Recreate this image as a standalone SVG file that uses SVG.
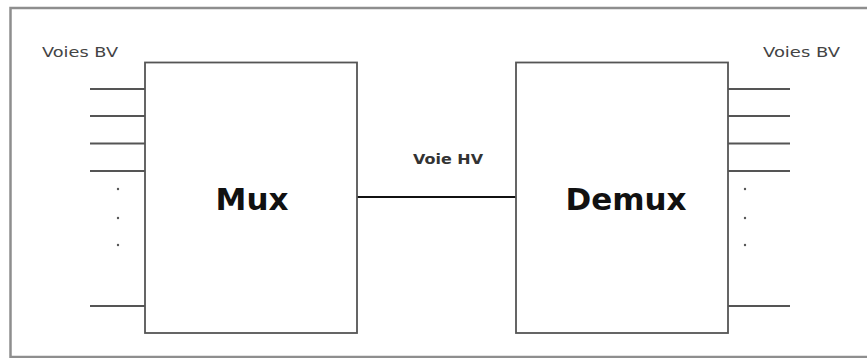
<svg xmlns="http://www.w3.org/2000/svg" width="867" height="358" viewBox="0 0 867 358">
  <style>
    .frame { fill: none; stroke: #8e8e8e; stroke-width: 2.5; }
    .box { fill: #ffffff; stroke: #555555; stroke-width: 1.8; }
    .lane { stroke: #555555; stroke-width: 1.8; }
    .dot { fill: #555555; }
    .hv { stroke: #111111; stroke-width: 2.2; }
    .small { font-family: "DejaVu Sans", Verdana, sans-serif; font-size: 14.5px; fill: #444444; }
    .label { font-family: "DejaVu Sans", Verdana, sans-serif; font-size: 14.5px; font-weight: bold; fill: #333333; }
    .title { font-family: "DejaVu Sans", Verdana, sans-serif; font-size: 31px; font-weight: bold; fill: #111111; text-anchor: middle; }
  </style>
  <rect width="867" height="358" fill="#ffffff"/>
  <!-- outer frame -->
  <path class="frame" d="M870 8 H10.5 V357 H870"/>

  <g id="connectors">
    <!-- low-speed lanes into Mux -->
    <line class="lane" x1="90" y1="89" x2="145" y2="89"/>
    <line class="lane" x1="90" y1="116" x2="145" y2="116"/>
    <line class="lane" x1="90" y1="143.5" x2="145" y2="143.5"/>
    <line class="lane" x1="90" y1="171" x2="145" y2="171"/>
    <line class="lane" x1="90" y1="306" x2="145" y2="306"/>
    <circle class="dot" cx="118" cy="189" r="1.2"/>
    <circle class="dot" cx="118" cy="218" r="1.2"/>
    <circle class="dot" cx="118" cy="245" r="1.2"/>
    <!-- high-speed link -->
    <line class="hv" x1="357" y1="197" x2="516" y2="197"/>
    <!-- low-speed lanes out of Demux -->
    <line class="lane" x1="728" y1="89" x2="790" y2="89"/>
    <line class="lane" x1="728" y1="116" x2="790" y2="116"/>
    <line class="lane" x1="728" y1="143.5" x2="790" y2="143.5"/>
    <line class="lane" x1="728" y1="171" x2="790" y2="171"/>
    <line class="lane" x1="728" y1="306" x2="790" y2="306"/>
    <circle class="dot" cx="745" cy="189" r="1.2"/>
    <circle class="dot" cx="745" cy="218" r="1.2"/>
    <circle class="dot" cx="745" cy="245" r="1.2"/>
  </g>

  <g id="mux">
    <rect class="box" x="145" y="62.5" width="212" height="270.5"/>
    <text class="title" x="252" y="210">Mux</text>
  </g>

  <g id="demux">
    <rect class="box" x="516" y="62.5" width="212" height="270.5"/>
    <text class="title" x="626" y="210">Demux</text>
  </g>

  <text class="small" x="42" y="57" textLength="76" lengthAdjust="spacingAndGlyphs">Voies BV</text>
  <text class="small" x="763" y="57" textLength="77" lengthAdjust="spacingAndGlyphs">Voies BV</text>
  <text class="label" x="413" y="164" textLength="70" lengthAdjust="spacingAndGlyphs">Voie HV</text>
</svg>
